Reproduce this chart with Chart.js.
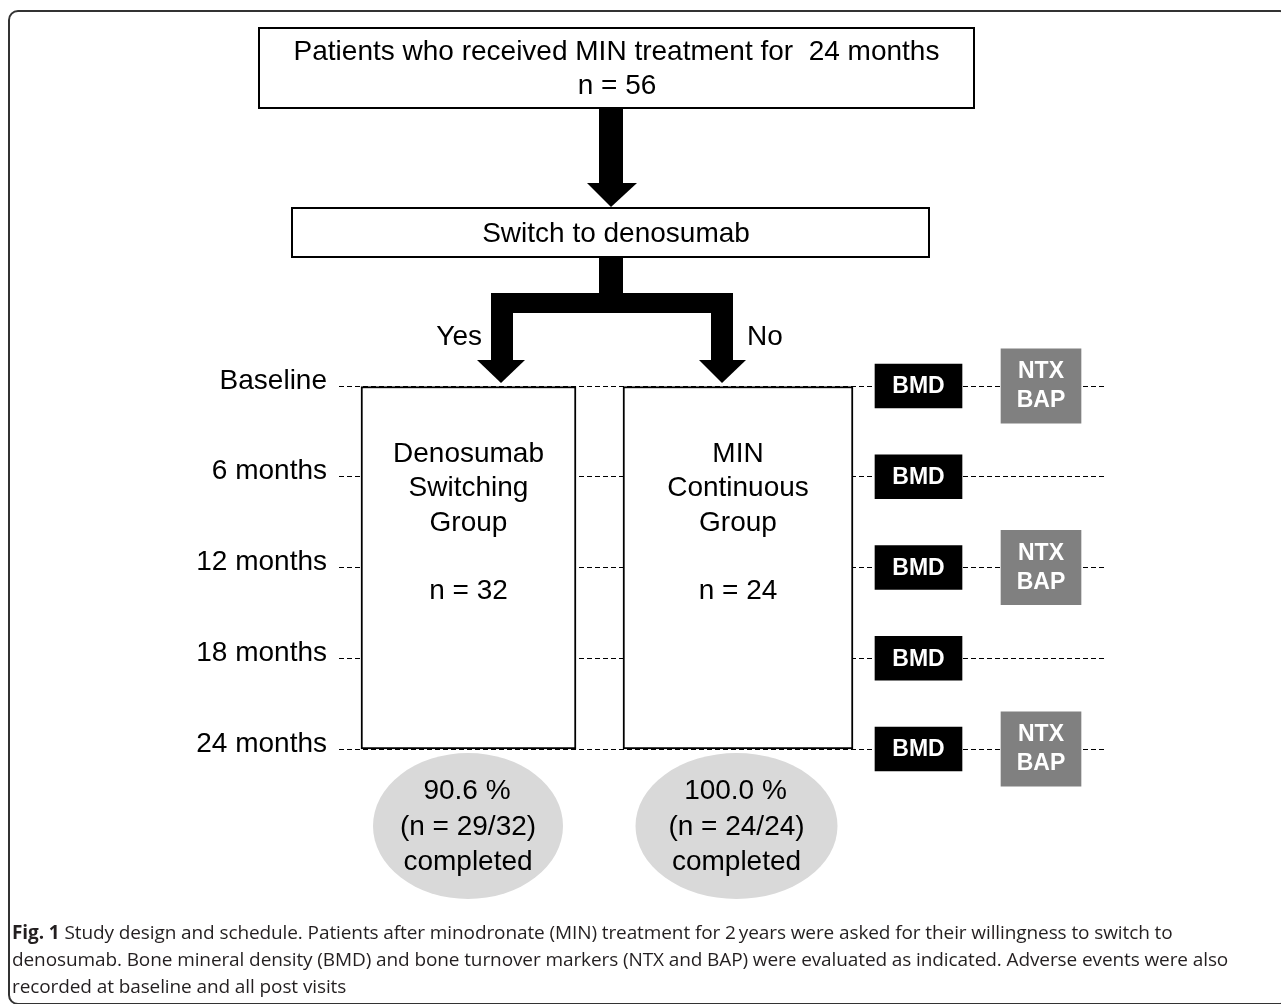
<!DOCTYPE html>
<html>
<head>
<meta charset="utf-8">
<script src="https://cdn.jsdelivr.net/npm/chart.js@4"></script>
<style>
  html, body { margin: 0; padding: 0; background: #fff; }
  #wrap { position: relative; width: 1281px; height: 1004px; overflow: hidden; }
  #fig { position: absolute; left: 0; top: 0; }
  #frame { position: absolute; left: 8px; top: 10px; width: 1282px; height: 995px; border: 2px solid #333;
           border-radius: 10px; box-sizing: border-box; pointer-events: none; }
  #caption { position: absolute; left: 12px; top: 919px; font-family: "Open Sans", sans-serif; font-size: 19px;
             letter-spacing: -0.1px; line-height: 27px; color: #231f20; white-space: nowrap; }
</style>
</head>
<body>
<div id="wrap">
  <canvas id="fig" width="1281" height="1004"></canvas>
  <div id="frame"></div>
  <div id="caption"><b>Fig. 1</b> Study design and schedule. Patients after minodronate (MIN) treatment for 2&#8201;years were asked for their willingness to switch to<br>denosumab. Bone mineral density (BMD) and bone turnover markers (NTX and BAP) were evaluated as indicated. Adverse events were also<br>recorded at baseline and all post visits</div>
</div>
<script>
// study data
const timepoints = ['Baseline', '6 months', '12 months', '18 months', '24 months'];
const months = [0, 6, 12, 18, 24];
const bmdVisits = [0, 6, 12, 18, 24];
const markerVisits = [0, 12, 24];
const groups = [['Denosumab', 'Switching', 'Group'], ['MIN', 'Continuous', 'Group']];
const groupN = [32, 24];
const completedN = [29, 24];
const totalN = 56;
const answers = ['Yes', 'No'];

const FONT = '"Liberation Sans", Arial, sans-serif';

// layout (page pixels; x scale runs 1:1 with the page)
const groupX = [468.5, 738];
const groupW = [215, 230];
const bmdX = 918.5, bmdW = 87, bmdHalf = 1.455;   // half height in months
const mrkX = 1041, mrkW = 80, mrkHalf = 2.45;

function rect(ctx, x0, y0, x1, y1) { ctx.fillRect(x0, y0, x1 - x0, y1 - y0); }
function tri(ctx, pts) {
  ctx.beginPath();
  ctx.moveTo(pts[0], pts[1]); ctx.lineTo(pts[2], pts[3]); ctx.lineTo(pts[4], pts[5]);
  ctx.closePath(); ctx.fill();
}
function text(ctx, s, x, y, font, color, align) {
  ctx.font = font; ctx.fillStyle = color || '#000';
  ctx.textAlign = align || 'center'; ctx.textBaseline = 'middle';
  ctx.fillText(s, x, y);
}

const flowPlugin = {
  id: 'flow',
  afterDatasetsDraw(chart) {
    const ctx = chart.ctx;
    const y = chart.scales.y;
    const base = y.getPixelForValue(0);
    const end = y.getPixelForValue(24);
    ctx.save();

    // header boxes
    ctx.strokeStyle = '#000'; ctx.lineWidth = 2;
    ctx.strokeRect(259, 28, 715, 80);
    text(ctx, 'Patients who received MIN treatment for  24 months', 616.5, 52, '28px ' + FONT);
    text(ctx, 'n = ' + totalN, 617, 86, '28px ' + FONT);
    ctx.strokeRect(292, 208, 637, 49);
    text(ctx, 'Switch to denosumab', 616, 234, '28px ' + FONT);

    // arrows
    ctx.fillStyle = '#000';
    rect(ctx, 599, 109, 623, 184);
    tri(ctx, [587, 183, 637, 183, 611, 207]);
    rect(ctx, 599, 258, 623, 294);
    rect(ctx, 491, 293, 733, 313);
    rect(ctx, 491, 312, 513, 361);
    rect(ctx, 711, 312, 733, 361);
    tri(ctx, [477, 360, 525, 360, 501, base - 3]);
    tri(ctx, [699, 360, 746, 360, 722, base - 3]);
    text(ctx, answers[0], 482, 337, '28px ' + FONT, '#000', 'right');
    text(ctx, answers[1], 747, 337, '28px ' + FONT, '#000', 'left');

    // group labels
    groups.forEach((lines, i) => {
      const cx = chart.getDatasetMeta(i).data[0].x;
      lines.forEach((l, k) => text(ctx, l, cx, base + 68 + k * 34.5, '28px ' + FONT));
      text(ctx, 'n = ' + groupN[i], cx, base + 205, '28px ' + FONT);
    });

    // completion ellipses
    const ell = [{cx: 468, rx: 95}, {cx: 736.5, rx: 101}];
    groups.forEach((g, i) => {
      const cy = end + 77;
      ctx.fillStyle = '#d9d9d9';
      ctx.beginPath();
      ctx.ellipse(ell[i].cx, cy, ell[i].rx, 73, 0, 0, Math.PI * 2);
      ctx.fill();
      const pct = (completedN[i] / groupN[i] * 100).toFixed(1);
      text(ctx, pct + ' %', ell[i].cx - 1, cy - 35, '28px ' + FONT);
      text(ctx, '(n = ' + completedN[i] + '/' + groupN[i] + ')', ell[i].cx, cy + 1, '28px ' + FONT);
      text(ctx, 'completed', ell[i].cx, cy + 36, '28px ' + FONT);
    });

    // visit labels
    const bmdMeta = chart.getDatasetMeta(2);
    bmdMeta.data.forEach(el => text(ctx, 'BMD', el.x, (el.y + el.base) / 2 + 1, 'bold 23px ' + FONT, '#fff'));
    const mrkMeta = chart.getDatasetMeta(3);
    mrkMeta.data.forEach(el => {
      const cy = (el.y + el.base) / 2;
      text(ctx, 'NTX', el.x, cy - 14, 'bold 23px ' + FONT, '#fff');
      text(ctx, 'BAP', el.x, cy + 15, 'bold 23px ' + FONT, '#fff');
    });
    ctx.restore();
  }
};

new Chart(document.getElementById('fig'), {
  type: 'bar',
  data: {
    datasets: [
      {
        label: groups[0].join(' '),
        data: [{x: groupX[0], y: [0, 24]}],
        barThickness: groupW[0],
        backgroundColor: '#fff', borderColor: '#000', borderWidth: 2, borderSkipped: false
      },
      {
        label: groups[1].join(' '),
        data: [{x: groupX[1], y: [0, 24]}],
        barThickness: groupW[1],
        backgroundColor: '#fff', borderColor: '#000', borderWidth: 2, borderSkipped: false
      },
      {
        label: 'BMD',
        data: bmdVisits.map(m => ({x: bmdX, y: [m - bmdHalf, m + bmdHalf]})),
        barThickness: bmdW,
        backgroundColor: '#000', borderWidth: 0
      },
      {
        label: 'NTX BAP',
        data: markerVisits.map(m => ({x: mrkX, y: [m - mrkHalf, m + mrkHalf]})),
        barThickness: mrkW,
        backgroundColor: '#808080', borderWidth: 0
      }
    ]
  },
  options: {
    responsive: false,
    animation: false,
    events: [],
    datasets: { bar: { grouped: false, clip: false } },
    layout: { padding: { top: 386, bottom: 255, left: 0, right: 175 } },
    plugins: { legend: { display: false }, tooltip: { enabled: false } },
    scales: {
      x: { type: 'linear', display: false, min: 339, max: 1106, offset: false },
      y: {
        type: 'linear', reverse: true, min: 0, max: 24,
        afterFit: s => { s.width = 339; },
        ticks: {
          stepSize: 6, padding: 12, labelOffset: -5, color: '#000',
          font: { family: FONT, size: 28 },
          callback: v => timepoints[months.indexOf(v)]
        },
        grid: { color: '#000', lineWidth: 1, drawTicks: false },
        border: { display: false, dash: [5, 3] }
      }
    }
  },
  plugins: [flowPlugin]
});
</script>
</body>
</html>
